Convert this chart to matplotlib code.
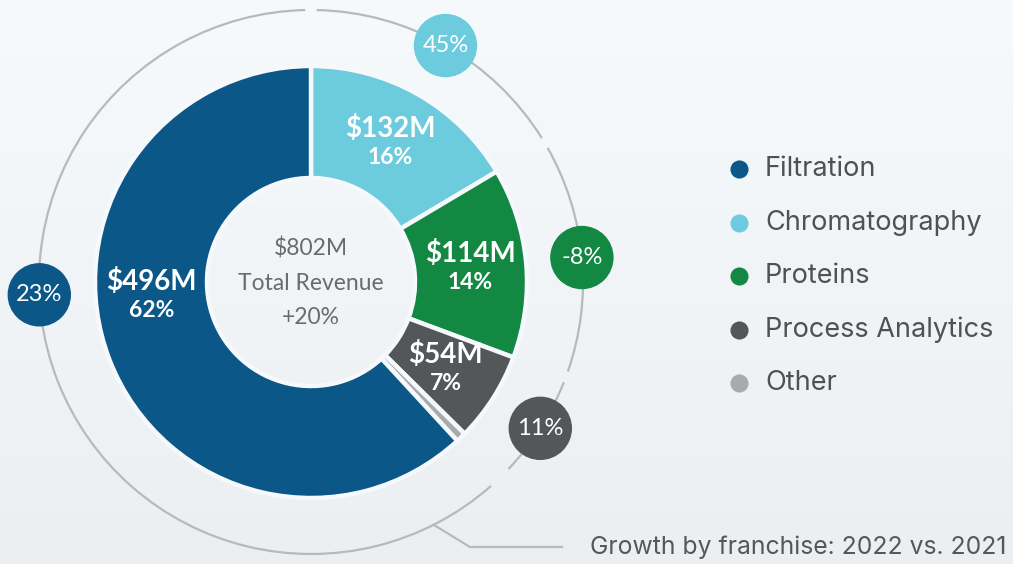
import numpy as np
import matplotlib
matplotlib.use("Agg")
import matplotlib.pyplot as plt
from matplotlib.patches import Arc, Circle

# data, in legend order
franchises = ['Filtration', 'Chromatography', 'Proteins', 'Process Analytics', 'Other']
revenue = [496, 132, 114, 54, 6]          # $M, 2022
revenue_labels = ['$496M', '$132M', '$114M', '$54M', '']
share_labels = ['62%', '16%', '14%', '7%', '']
growth_labels = ['23%', '45%', '-8%', '11%', '']
colors = ['#0B5788', '#6CCBDD', '#128843', '#54575A', '#A9AAAC']
total_label = '$802M'
total_growth = '+20%'
caption = 'Growth by franchise: 2022 vs. 2021'

W, H = 1013, 564
bg = '#F6F9FC'
cx, cy = 311, 282
R, r_in = 216, 104
R_arc = 272

label_font = ['Lato', 'DejaVu Sans']
legend_font = ['Inter', 'DejaVu Sans']

fig = plt.figure(figsize=(W / 100, H / 100), dpi=100)
ax = fig.add_axes([0, 0, 1, 1])

# pie goes clockwise from 12 o'clock starting with Chromatography, Filtration last
order = [1, 2, 3, 4, 0]
wedges, _ = ax.pie([revenue[i] for i in order],
                   colors=[colors[i] for i in order],
                   startangle=90, counterclock=False,
                   radius=R, center=(cx, cy),
                   wedgeprops=dict(width=R - r_in, edgecolor=bg, linewidth=3.2))
wedge_of = {order[k]: w for k, w in enumerate(wedges)}

# soft vertical background gradient
grad = np.linspace(0, 1, 256).reshape(-1, 1)
bg_cmap = matplotlib.colors.LinearSegmentedColormap.from_list('bg', ['#F7FAFD', '#ECEFF2'])
ax.imshow(grad, extent=[0, W, 0, H], cmap=bg_cmap, aspect='auto', zorder=-10, origin='upper')

def polar(angle, rad):
    a = np.deg2rad(angle)
    return cx + rad * np.cos(a), cy + rad * np.sin(a)

# filtration labels/bubble sit on the left, not at the wedge middle
label_angle = {0: 185.0}
bubble_angle = {0: 182.7}
gap = 1.2

for i, name in enumerate(franchises):
    w = wedge_of[i]
    t1, t2 = w.theta1, w.theta2
    mid = (t1 + t2) / 2
    if i == 4:
        continue
    # outer growth arc segment
    ax.add_patch(Arc((cx, cy), 2 * R_arc, 2 * R_arc, theta1=t1 + gap, theta2=t2 - gap,
                     color='#B8B9BA', lw=1.6, zorder=2))
    # growth bubble
    bx, by = polar(bubble_angle.get(i, mid), R_arc)
    ax.add_patch(Circle((bx, by), 31, color=colors[i], zorder=4))
    ax.text(bx, by, growth_labels[i], color='white', fontsize=17, family=label_font,
            ha='center', va='center', zorder=5)
    # wedge labels
    lx, ly = polar(label_angle.get(i, mid), 160)
    ax.text(lx, ly + 14, revenue_labels[i], color='white', fontsize=20, family=label_font,
            weight='bold', ha='center', va='center', zorder=5)
    ax.text(lx, ly - 15, share_labels[i], color='white', fontsize=16.5, family=label_font,
            weight='bold', ha='center', va='center', zorder=5)

# centre text
center_color = '#6B6B6B'
ax.text(cx, cy + 33, total_label, color=center_color, fontsize=16.5, family=label_font,
        ha='center', va='center')
ax.text(cx, cy - 1, 'Total Revenue', color=center_color, fontsize=16.5, family=label_font,
        ha='center', va='center')
ax.text(cx, cy - 35, total_growth, color=center_color, fontsize=16.5, family=label_font,
        ha='center', va='center')

# legend
for k, name in enumerate(franchises):
    y = 395 - k * 53.5
    ax.scatter([739], [y], s=170, color=colors[k], zorder=5, linewidths=0)
    ax.text(765, y, name, color='#4F5153', fontsize=19.5, family=legend_font,
            ha='left', va='center')

# caption with leader line from the arc
sx, sy = polar(-63.2, R_arc)
ax.plot([sx, 470, 562], [sy, 17, 17], color='#B8B9BA', lw=1.6, zorder=2)
ax.text(590, 17, caption, color='#555759', fontsize=17.8, family=legend_font,
        ha='left', va='center')

ax.set_xlim(0, W)
ax.set_ylim(0, H)
ax.set_aspect('auto')
ax.axis('off')

fig.savefig('out.png', dpi=100, facecolor=bg)
